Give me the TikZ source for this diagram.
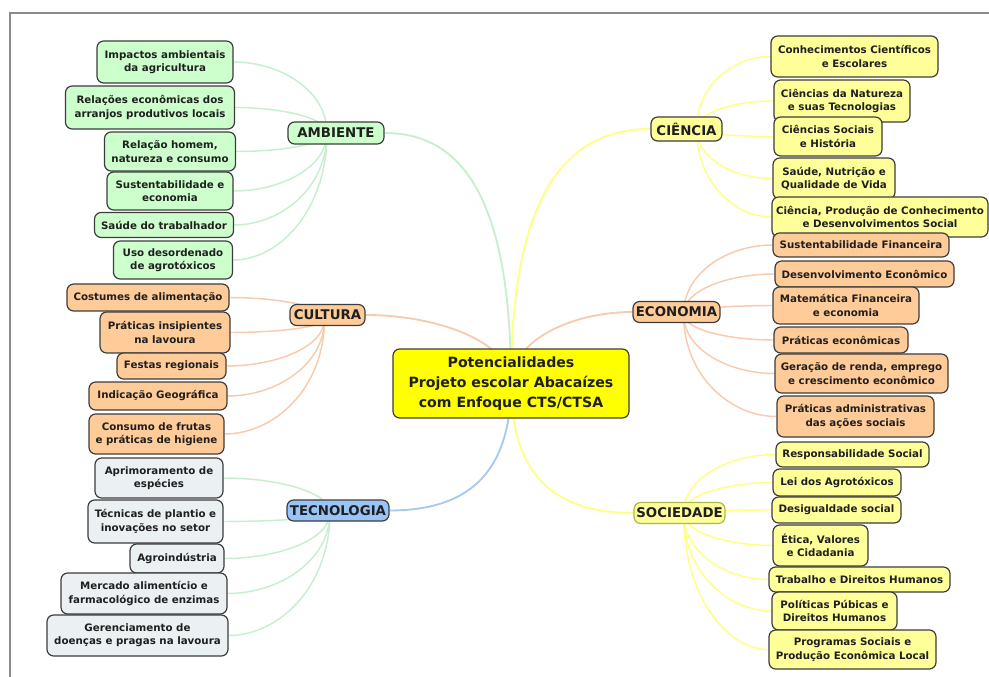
\documentclass[tikz,border=0pt]{standalone}
\usepackage{fontspec}
\setmainfont{DejaVu Sans}
\usetikzlibrary{calc,backgrounds}
\definecolor{gfill}{HTML}{CCFFCC}
\definecolor{ofill}{HTML}{FFCC99}
\definecolor{tfill}{HTML}{EBF0F2}
\definecolor{bfill}{HTML}{99C4F8}
\definecolor{yfill}{HTML}{FFFF99}
\definecolor{cfill}{HTML}{FFFF00}
\definecolor{bord}{HTML}{3C3C3C}
\definecolor{socbord}{HTML}{A9B94E}
\definecolor{cG}{HTML}{C6EFCF}
\definecolor{cO}{HTML}{F6CBAE}
\definecolor{cY}{HTML}{FFFF84}
\definecolor{cB}{HTML}{A9C9EE}
\definecolor{frame}{HTML}{8A8A8A}
\newcommand\cnx[5]{\draw[#5] (#1) .. controls ($(#1)!#3!(#1|-#2)$) and ($(#2)!#4!(#2-|#1)$) .. (#2);}
\tikzset{
  wh/.style 2 args={minimum width=#1*0.75pt, minimum height=#2*0.75pt},
  base/.style={rounded corners=5pt, line width=0.9pt, draw=bord, align=center, inner sep=0pt,
    text=black!88, font=\fontsize{7.7}{10}\selectfont\bfseries},
  leafG/.style={base, fill=gfill},
  leafO/.style={base, fill=ofill},
  leafT/.style={base, fill=tfill},
  leafY/.style={base, fill=yfill},
  branch/.style={base, font=\fontsize{10}{12}\selectfont\bfseries},
  mainln/.style={line width=1.4pt},
  subln/.style={line width=1.1pt},
}
\begin{document}
\begin{tikzpicture}[x=0.75pt,y=-0.75pt]
\useasboundingbox (0,0) rectangle (989,677);
\draw[frame, line width=1.5pt] (10,677) -- (10,13) -- (989,13);

% center
\node[base, fill=cfill, wh={236}{69}, font=\fontsize{10.6}{15}\selectfont\bfseries] (cen) at (511,383.5)
  {Potencialidades\\Projeto escolar Abacaízes\\com Enfoque CTS/CTSA};

% branches
\node[branch, fill=gfill, wh={96}{22}] (amb) at (336,133) {AMBIENTE};
\node[branch, fill=ofill, wh={75}{21}] (cul) at (327.5,315) {CULTURA};
\node[branch, fill=bfill, wh={102}{21}] (tec) at (338,510.5) {TECNOLOGIA};
\node[branch, fill=yfill, wh={71}{24}] (cie) at (686.5,129) {CIÊNCIA};
\node[branch, fill=ofill, wh={87}{21}] (eco) at (676.5,312) {ECONOMIA};
\node[branch, fill=yfill, draw=socbord, wh={91}{21}] (soc) at (679.5,513) {SOCIEDADE};

% AMBIENTE children
\node[leafG, wh={136}{42}] (a1) at (165,62) {Impactos ambientais\\da agricultura};
\node[leafG, wh={169}{43}] (a2) at (150,107.5) {Relações econômicas dos\\arranjos produtivos locais};
\node[leafG, wh={131}{39}] (a3) at (170,151.5) {Relação homem,\\natureza e consumo};
\node[leafG, wh={126}{38}] (a4) at (170,191) {Sustentabilidade e\\economia};
\node[leafG, wh={139}{25}] (a5) at (164,225) {Saúde do trabalhador};
\node[leafG, wh={119}{38}] (a6) at (173,260) {Uso desordenado\\de agrotóxicos};

% CULTURA children
\node[leafO, wh={162}{27}] (c1) at (148,297.5) {Costumes de alimentação};
\node[leafO, wh={130}{41}] (c2) at (165,332.5) {Práticas insipientes\\na lavoura};
\node[leafO, wh={109}{26}] (c3) at (171.5,366) {Festas regionais};
\node[leafO, wh={138}{28}] (c4) at (158,396) {Indicação Geográfica};
\node[leafO, wh={135}{40}] (c5) at (156.5,434) {Consumo de frutas\\e práticas de higiene};

% TECNOLOGIA children
\node[leafT, wh={128}{40}] (t1) at (159,478) {Aprimoramento de\\espécies};
\node[leafT, wh={135}{43}] (t2) at (155.5,521.5) {Técnicas de plantio e\\inovações no setor};
\node[leafT, wh={94}{29}] (t3) at (177,558.5) {Agroindústria};
\node[leafT, wh={166}{41}] (t4) at (144,593.5) {Mercado alimentício e\\farmacológico de enzimas};
\node[leafT, wh={181}{41}] (t5) at (137.5,635.5) {Gerenciamento de\\doenças e pragas na lavoura};

% CIENCIA children
\node[leafY, wh={167}{41}] (s1) at (854.5,56.5) {Conhecimentos Científicos\\e Escolares};
\node[leafY, wh={136}{42}] (s2) at (842,101) {Ciências da Natureza\\e suas Tecnologias};
\node[leafY, wh={108}{39}] (s3) at (828,136.5) {Ciências Sociais\\e História};
\node[leafY, wh={122}{41}] (s4) at (834,178.5) {Saúde, Nutrição e\\Qualidade de Vida};
\node[leafY, wh={216}{40}] (s5) at (880,217) {Ciência, Produção de Conhecimento\\e Desenvolvimentos Social};

% ECONOMIA children
\node[leafO, wh={176}{24}] (e1) at (861,245) {Sustentabilidade Financeira};
\node[leafO, wh={179}{26}] (e2) at (864.5,274) {Desenvolvimento Econômico};
\node[leafO, wh={146}{37}] (e3) at (846,305.5) {Matemática Financeira\\e economia};
\node[leafO, wh={134}{26}] (e4) at (841,340) {Práticas econômicas};
\node[leafO, wh={173}{39}] (e5) at (861.5,373.5) {Geração de renda, emprego\\e crescimento econômico};
\node[leafO, wh={157}{41}] (e6) at (855.5,416.5) {Práticas administrativas\\das ações sociais};

% SOCIEDADE children
\node[leafY, wh={153}{25}] (o1) at (852.5,454.5) {Responsabilidade Social};
\node[leafY, wh={128}{27}] (o2) at (837,482.5) {Lei dos Agrotóxicos};
\node[leafY, wh={129}{26}] (o3) at (836.5,510) {Desigualdade social};
\node[leafY, wh={95}{41}] (o4) at (820.5,545.5) {Ética, Valores\\e Cidadania};
\node[leafY, wh={181}{25}] (o5) at (859.5,579.5) {Trabalho e Direitos Humanos};
\node[leafY, wh={125}{38}] (o6) at (834.5,611) {Políticas Púbicas e\\Direitos Humanos};
\node[leafY, wh={167}{39}] (o7) at (852.5,649.5) {Programas Sociais e\\Produção Econômica Local};

% hubs
\coordinate (ambH) at ($(amb.center)+(-9,0)$);
\coordinate (culH) at ($(cul.center)+(-3,4)$);
\coordinate (tecH) at ($(tec.center)+(-8,2)$);
\coordinate (cieH) at ($(cie.center)+(10,0)$);
\coordinate (ecoH) at ($(eco.center)+(7,2)$);
\coordinate (socH) at ($(soc.center)+(4,0)$);

\begin{scope}[on background layer]
  % main connectors
  \cnx{cen.center}{amb.east}{0.75}{0.6}{mainln, cG}
  \cnx{cen.center}{cul.east}{0.6}{0.5}{mainln, cO}
  \cnx{cen.center}{tec.east}{0.75}{0.6}{mainln, cB}
  \cnx{cen.center}{cie.west}{0.75}{0.6}{mainln, cY}
  \cnx{cen.center}{eco.west}{0.6}{0.5}{mainln, cO}
  \cnx{cen.center}{soc.west}{0.75}{0.6}{mainln, cY}
  % sub connectors
  \foreach \c in {a1,a2,a3,a4,a5,a6} {\cnx{ambH}{\c.east}{0.6}{0.5}{subln, cG}}
  \foreach \c in {c1,c2,c3,c4,c5} {\cnx{culH}{\c.east}{0.6}{0.5}{subln, cO}}
  \foreach \c in {t1,t2,t3,t4,t5} {\cnx{tecH}{\c.east}{0.6}{0.5}{subln, cG}}
  \foreach \c in {s1,s2,s3,s4,s5} {\cnx{cieH}{\c.west}{0.6}{0.5}{subln, cY}}
  \foreach \c in {e1,e2,e3,e4,e5,e6} {\cnx{ecoH}{\c.west}{0.6}{0.5}{subln, cO}}
  \foreach \c in {o1,o2,o3,o4,o5,o6,o7} {\cnx{socH}{\c.west}{0.6}{0.5}{subln, cY}}
\end{scope}
\end{tikzpicture}
\end{document}
